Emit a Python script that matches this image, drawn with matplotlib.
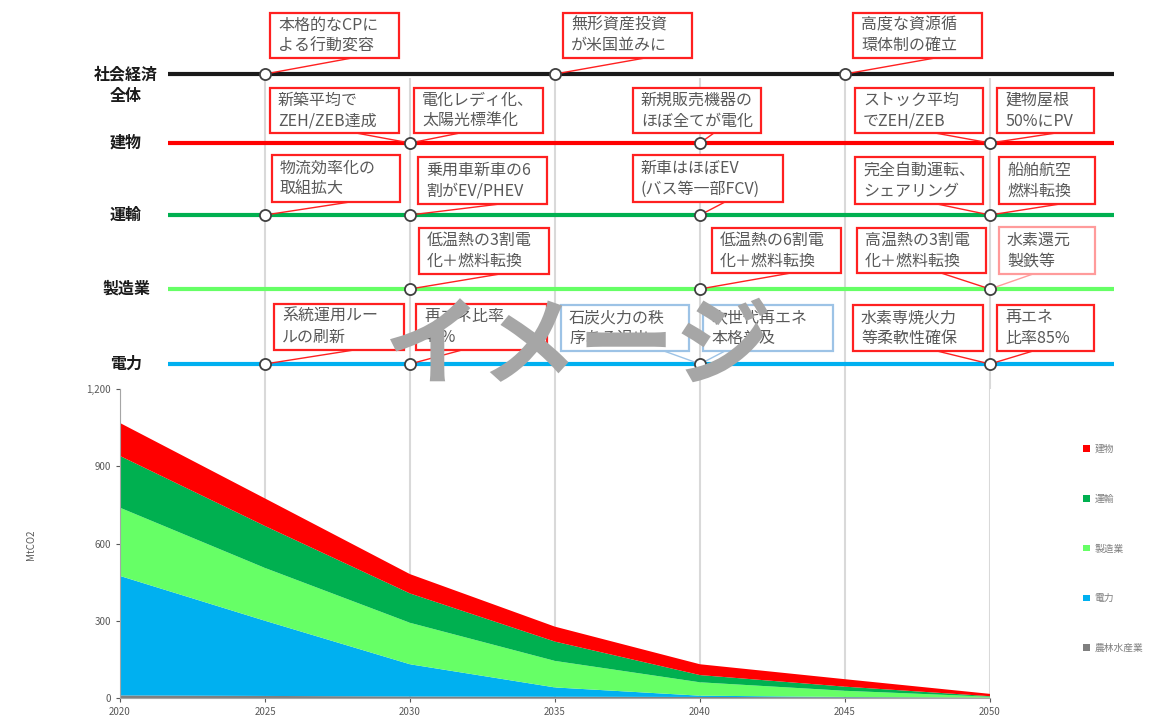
import matplotlib
matplotlib.use('Agg')
import matplotlib.pyplot as plt
from matplotlib.patches import Rectangle, ConnectionPatch
from matplotlib.transforms import blended_transform_factory

plt.rcParams['font.family'] = ['Noto Sans CJK JP', 'DejaVu Sans']

# emissions by sector (MtCO2)
years = [2020, 2025, 2030, 2035, 2040, 2045, 2050]
agri = [10, 8, 6, 5, 4, 3, 2]
power = [464, 292, 125, 36, 5, 1, 0]
manufacturing = [265, 205, 161, 103, 52, 24, 3]
transport = [201, 163, 114, 75, 28, 16, 2]
buildings = [128, 107, 75, 58, 42, 29, 9]

sector_names = ['農林水産業', '電力', '製造業', '運輸', '建物']
sector_colors = ['#7f7f7f', '#00b0f0', '#66ff66', '#00b050', '#ff0000']

yticks = [0, 300, 600, 900, 1200]
ytick_labels = ['0', '300', '600', '900', '1,200']

# roadmap rows and milestones (row, year, text)
row_labels = ['社会経済\n全体', '建物', '運輸', '製造業', '電力']
row_colors = ['#1a1a1a', '#ff0000', '#00b050', '#66ff66', '#00b0f0']

milestones = [
    (0, 2025, '本格的なCPに\nよる行動変容'),
    (0, 2035, '無形資産投資\nが米国並みに'),
    (0, 2045, '高度な資源循\n環体制の確立'),
    (1, 2030, '新築平均で\nZEH/ZEB達成'),
    (1, 2030, '電化レディ化、\n太陽光標準化'),
    (1, 2040, '新規販売機器の\nほぼ全てが電化'),
    (1, 2050, 'ストック平均\nでZEH/ZEB'),
    (1, 2050, '建物屋根\n50%にPV'),
    (2, 2025, '物流効率化の\n取組拡大'),
    (2, 2030, '乗用車新車の6\n割がEV/PHEV'),
    (2, 2040, '新車はほぼEV\n(バス等一部FCV)'),
    (2, 2050, '完全自動運転、\nシェアリング'),
    (2, 2050, '船舶航空\n燃料転換'),
    (3, 2030, '低温熱の3割電\n化＋燃料転換'),
    (3, 2040, '低温熱の6割電\n化＋燃料転換'),
    (3, 2050, '高温熱の3割電\n化＋燃料転換'),
    (3, 2050, '水素還元\n製鉄等'),
    (4, 2025, '系統運用ルー\nルの刷新'),
    (4, 2030, '再エネ比率\n40%'),
    (4, 2040, '石炭火力の秩\n序ある退出'),
    (4, 2040, '次世代再エネ\n本格普及'),
    (4, 2050, '水素専焼火力\n等柔軟性確保'),
    (4, 2050, '再エネ\n比率85%'),
]

# layout (pixels): row line heights, and per box: left, top, width, height, leader x, style
row_y = [74, 143, 215, 289, 364]
RED, BLUE, PINK = '#ff2020', '#9dc3e6', '#ff9b9b'
box_layout = [
    (270, 13, 129, 45, 352, RED),
    (563, 13, 129, 45, 645, RED),
    (853, 13, 129, 45, 935, RED),
    (270, 88, 129, 45, 356, RED),
    (414, 88, 129, 45, 460, RED),
    (633, 88, 128, 45, 714, RED),
    (855, 88, 128, 45, 935, RED),
    (997, 88, 97, 45, 1056, RED),
    (272, 155, 128, 47, 350, RED),
    (418, 157, 129, 47, 500, RED),
    (633, 155, 150, 47, 725, RED),
    (855, 157, 128, 47, 937, RED),
    (999, 157, 96, 47, 1060, RED),
    (419, 228, 130, 46, 500, RED),
    (712, 228, 129, 45, 791, RED),
    (857, 228, 129, 45, 941, RED),
    (999, 227, 96, 47, 1033, PINK),
    (274, 304, 130, 46, 354, RED),
    (416, 304, 131, 46, 462, RED),
    (561, 305, 128, 46, 664, BLUE),
    (703, 305, 130, 46, 725, BLUE),
    (853, 305, 130, 46, 937, RED),
    (997, 305, 97, 46, 1033, RED),
]

W, H = 1160, 720
fig = plt.figure(figsize=(W / 100, H / 100), dpi=100)

# stacked area chart
ax = fig.add_axes([120 / W, 22 / H, 870 / W, 309 / H])
polys = ax.stackplot(years, agri, power, manufacturing, transport, buildings,
                     colors=sector_colors, labels=sector_names, lw=0)
ax.set_xlim(2020, 2050)
ax.set_ylim(0, 1200)
ax.set_xticks(years)
ax.set_yticks(yticks)
ax.set_yticklabels(ytick_labels)
ax.tick_params(labelsize=7, colors='#595959', length=3, width=0.8)
ax.grid(axis='x', color='#d9d9d9', lw=1.5)
ax.set_axisbelow(True)
for s in ['top', 'right']:
    ax.spines[s].set_visible(False)
ax.spines['left'].set_color('#a6a6a6')
ax.spines['bottom'].set_color('#a6a6a6')
ax.set_ylabel('MtCO2', fontsize=7, color='#595959')
ax.yaxis.set_label_coords(-0.097, 0.495)

fig.legend(polys[::-1], sector_names[::-1], loc='upper left',
           bbox_to_anchor=(1074 / W, 1 - 435 / H), frameon=False, fontsize=7,
           labelcolor='#7f7f7f', handlelength=0.7, handleheight=0.7,
           handletextpad=0.5, labelspacing=4.1)

# overlay for the roadmap, in pixel units
ov = fig.add_axes([0, 0, 1, 1], zorder=3)
ov.set_xlim(0, W)
ov.set_ylim(H, 0)
ov.axis('off')
blend = blended_transform_factory(ax.transData, ov.transData)

ov.vlines(years[1:], 78, 389, color='#d9d9d9', lw=1.5, transform=blend, zorder=1)

for label, y, c in zip(row_labels, row_y, row_colors):
    ov.hlines(y, 168, 1114, color=c, lw=3, zorder=2)
    dy = 11 if '\n' in label else 0
    ov.text(126, y + dy, label, ha='center', va='center', fontsize=11.5,
            fontweight='bold', color='#1a1a1a', linespacing=1.4)

for (row, yr, text), (left, top, w, h, lx, ec) in zip(milestones, box_layout):
    ov.add_patch(Rectangle((left, top), w, h, fill=True, fc='white', ec=ec, lw=1.6, zorder=3))
    ov.text(left + 8, top + h / 2, text, ha='left', va='center', fontsize=11.5,
            color='#595959', linespacing=1.3, zorder=4)
    con = ConnectionPatch(xyA=(yr, row_y[row]), coordsA=blend,
                          xyB=(lx, top + h), coordsB=ov.transData,
                          color=ec, lw=1, zorder=4)
    ov.add_artist(con)

pts = sorted(set((row, yr) for row, yr, _ in milestones))
ov.plot([p[1] for p in pts], [row_y[p[0]] for p in pts], 'o', transform=blend,
        ms=8, mfc='white', mec='#404040', mew=1.3, zorder=6, ls='none')

ov.text(578, 348, 'イメージ', ha='center', va='center', fontsize=70,
        fontweight='bold', color='#a6a6a6', zorder=10)

fig.savefig('out.png', dpi=100)
